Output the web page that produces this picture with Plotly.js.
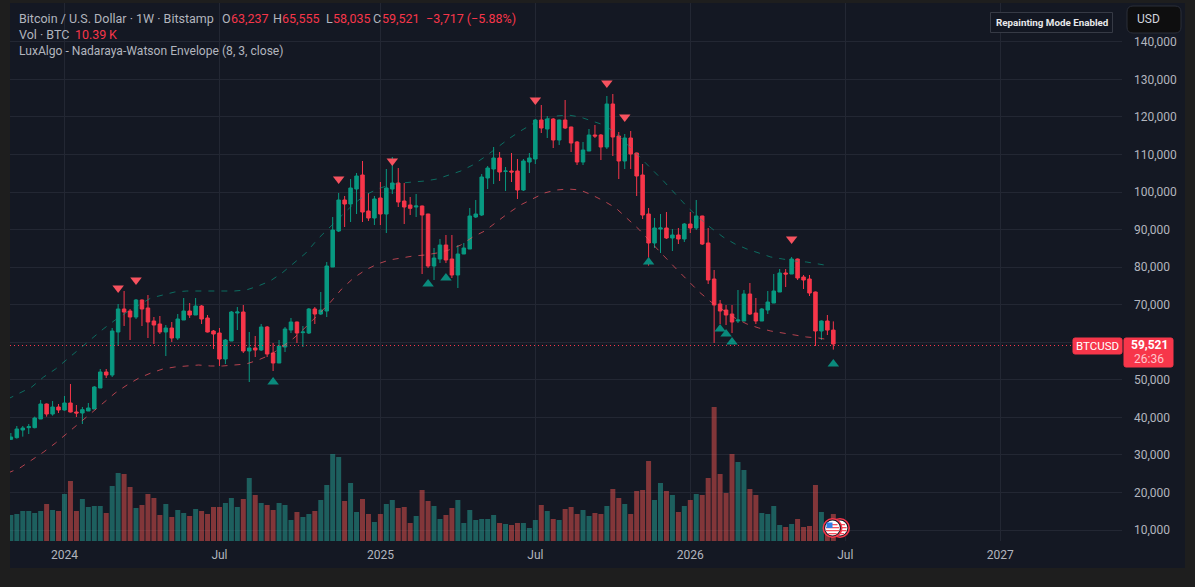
<!DOCTYPE html>
<html>
<head>
<meta charset="utf-8">
<script src="https://cdn.plot.ly/plotly-3.0.1.min.js"></script>
<style>html,body{margin:0;padding:0;background:#1e1e1e;overflow:hidden}#c{width:1195px;height:587px}</style>
</head>
<body>
<div id="c"></div>
<script>
var firstWeek = Date.UTC(2023,9,30);
var openVals = [34143,34587,36628,37250,37250,39558,43552,40889,42753,
41954,43819,41422,41156,41688,42221,47813,52074,51275,62727,
68852,68319,66721,71249,69118,65656,64857,62727,63792,61129,
65922,68319,67254,69651,66455,62993,62460,55536,60330,67787,
68053,57667,58466,57933,64058,57134,54471,58732,63259,65390,
62550,62460,68852,67520,68319,80036,89623,97878,96813,100808,
104536,94949,93085,98411,94150,100808,102406,97612,96547,96014,
96281,94150,80302,82166,85894,82166,77905,83498,84829,93351,
93884,103737,106133,109063,105500,105601,105601,100541,107998,108797,
119183,116786,119449,113856,119183,117318,113324,107998,110927,115188,
115188,111992,123444,114921,108264,114389,110394,104535,94150,86426,
90155,90421,87758,88557,87493,91487,90422,93618,86428,76840,
70183,68585,67520,65655,65655,72846,67786,65655,68585,70449,
73378,78438,78172,82166,77373,76840,73378,62992,65655,63237];
var highVals = [35829,37694,37694,38226,40179,44618,43700,44351,43552,
45683,48879,43286,42753,43819,48346,52873,52873,63792,70183,
73645,68852,71515,71400,72580,66721,66988,64591,65390,67520,
71781,70450,71781,69917,67254,63259,63792,60863,68319,69384,
69917,62727,61661,64857,64325,59797,60596,64058,66455,65500,
64325,69118,69384,73379,81368,93351,99743,98944,103471,105069,
108265,99743,98944,102672,106134,109330,106400,102406,98677,99476,
96400,94200,85096,87492,88558,88558,85894,86427,95748,97878,
104803,106932,111992,110661,106666,110394,108797,108797,110394,119449,
123177,120248,119715,119300,124509,117400,113590,113324,116786,117851,
115454,125574,126107,115987,115454,116253,110500,107465,95747,93084,
94150,94682,90155,90421,91754,94683,97879,93700,90422,79237,
71248,69916,69916,73911,73911,75775,71780,69117,73645,78172,
79504,79504,82699,82300,77906,77906,73500,65800,67253,65555];
var lowVals = [33965,34320,34853,35563,37072,39558,40179,40445,41156,
41777,41300,40090,38226,41688,42221,47813,50476,50743,58998,
64325,60596,66189,64325,61129,59531,62194,56335,60064,60596,
65922,66455,67254,64857,62600,58199,53672,54205,60330,63259,
57134,49411,56069,57667,56069,52341,54471,57400,62460,59797,
58732,62194,64857,67254,66721,80036,89357,90688,92020,94150,
92020,92286,91220,91220,89090,99476,96014,91487,93884,93351,
78172,79770,76574,81101,81101,77106,74443,83498,84829,93085,
93618,100807,102139,102937,100275,102671,98144,100275,105068,107465,
115721,114389,111726,112525,116786,110661,107199,107199,110927,114389,
108530,111459,109595,103470,106133,106133,98943,92817,80391,85095,
83763,87491,84296,86160,86694,89091,89890,85895,75509,59796,
64857,64590,62459,65122,65655,67253,64857,65655,67520,70449,
73378,74709,78172,76574,74177,72313,58998,60596,61927,58035];
var closeVals = [34764,36895,37161,37516,39824,43552,40889,42753,41954,
43819,41422,41156,42043,42487,48080,52074,51275,62993,68852,
68053,66721,71249,68852,65390,64591,62727,63792,61129,66189,
68319,67254,69651,66189,62727,62194,55536,60596,68053,68053,
57667,58466,57933,64058,56868,54471,58998,63526,65390,62460,
62727,68852,67520,68585,80303,89889,97878,96813,101074,104270,
94683,93085,98145,94150,101074,102406,97346,96014,95659,96281,
93884,80302,82433,85894,81900,77905,83498,85096,93618,94150,
104004,106400,109063,105334,105601,105334,100541,108264,109063,119183,
117052,119449,113856,119183,117052,113058,107998,111193,115188,114921,
111992,123444,114655,108264,114389,110128,104269,93883,86426,90421,
90421,87758,88557,87491,91487,90422,93618,86161,76574,69916,
68318,67253,65389,65922,72846,67520,65655,68851,70715,73645,
78438,78172,82166,77107,76574,73112,62992,65655,63238,59521];
var volumes = [10007,10392,11547,11547,10777,11547,14241,11932,11547,
18090,23094,11547,16166,13087,13472,13472,10777,21170,26173,
25788,20785,12702,13856,18090,16551,10007,14241,9238,11932,
10777,9623,12317,11547,10392,13087,13087,14626,16551,13087,
16166,24249,17705,14626,13856,11932,14626,13856,8083,11162,
9238,10392,11547,15781,21554,33486,32332,15396,22324,11162,
16166,10392,7313,10392,14241,15781,12702,13087,6928,9623,
19630,15396,13472,8468,10007,12702,15781,6928,11932,8083,
8468,8468,10007,6928,6543,6158,6928,6928,5004,8083,
13856,11547,8468,8083,12317,13087,10392,11932,9623,10777,
10392,13472,20015,16551,14241,10392,19245,19630,30792,15781,
22324,19245,17705,11162,13472,15781,18090,17705,24249,51577,
25788,18475,33486,30407,27328,20015,17705,10777,10392,13472,
6158,5389,6543,8468,5389,5774,21554,11162,6400,10390];
var upperVals = [44885,46483,48081,50744,52874,55537,58200,60863,63526,65923,
68053,69918,71782,72581,73379,73646,73646,73646,73646,73646,
73912,74977,76309,78439,81102,83765,87493,90689,93618,96814,
99211,100808,101874,102406,102672,102939,103471,104537,105602,107200,
109330,111727,114123,116254,118118,119183,120248,120515,119982,118917,
117852,115721,112526,109330,106401,102939,99477,96015,93086,90423,
88026,86162,84830,83765,82700,82167,81635,81368,80836,80303];
var lowerVals = [25179,26511,28641,30771,33168,35831,38494,41157,43820,46483,
48614,50478,51809,52874,53407,53673,53940,53673,53673,53940,
54206,55271,56603,58733,61130,64059,67255,70450,74178,77108,
79238,80836,81901,82434,82966,83233,83765,84564,85896,88026,
89624,92020,94417,96548,98145,99743,100542,100808,100542,99211,
97613,95749,92819,89890,86428,82966,79771,76575,73379,70716,
68586,66456,64858,63793,62994,62461,61929,61396,61130,60597];
var sellWeeks = [9,12,46,55,79,91,94,122];
var sellPrices = [74445,76575,103471,108265,124509,129036,119982,87493];
var buyWeeks = [35,61,64,98,110,111,112,129];
var buyPrices = [49412,75510,77108,81368,63526,62195,60064,54206];
var priceTicks = [10000,20000,30000,40000,50000,60000,70000,80000,90000,100000,110000,120000,130000,140000];
var priceTickText = ['10,000','20,000','30,000','40,000','50,000','','70,000','80,000','90,000','100,000','110,000','120,000','130,000','140,000'];
var timeTickWeeks = [0,26,53,79,105,131,157];
var timeTickText = ['2024','Jul','2025','Jul','2026','Jul','2027'];

var W = 864e5*7, W0 = Date.UTC(2024,0,1);
function wk(i){return new Date(W0 + i*W).toISOString().slice(0,16).replace('T',' ');}
var candleX = openVals.map(function(_,k){return new Date(firstWeek + k*W).toISOString().slice(0,10);});
var envX = upperVals.map(function(_,k){return wk(-9.5 + 2*k);});

var UP='#089981', DN='#f7364a', PANEL='#141823', GRID='#232733', TXT='#b2b5be', FONT='Roboto, "Noto Sans", sans-serif';
var L=10,R=1122,T=3,B=541;
function px(x){return (x-L)/(R-L);}
function py(y){return (B-y)/(B-T);}

var traces = [
 {type:'bar',x:candleX,y:volumes,yaxis:'y',xaxis:'x',hoverinfo:'skip',
  marker:{line:{width:0},color:closeVals.map(function(c,i){return c>=openVals[i]?'rgba(38,166,154,0.5)':'rgba(239,83,80,0.5)';})}},
 {type:'candlestick',x:candleX,open:openVals,high:highVals,low:lowVals,close:closeVals,yaxis:'y2',xaxis:'x',hoverinfo:'skip',whiskerwidth:0,
  increasing:{line:{color:UP,width:1},fillcolor:UP},decreasing:{line:{color:DN,width:1},fillcolor:DN}},
 {type:'scatter',mode:'lines',x:envX,y:upperVals,yaxis:'y2',hoverinfo:'skip',line:{color:'rgba(8,153,129,0.65)',width:1,dash:'6px,7px'}},
 {type:'scatter',mode:'lines',x:envX,y:lowerVals,yaxis:'y2',hoverinfo:'skip',line:{color:'rgba(247,82,95,0.7)',width:1,dash:'6px,7px'}},
 {type:'scatter',mode:'markers',x:sellWeeks.map(wk),y:sellPrices,yaxis:'y2',hoverinfo:'skip',marker:{symbol:'triangle-down',size:10,color:'#f7525f',line:{width:0}}},
 {type:'scatter',mode:'markers',x:buyWeeks.map(wk),y:buyPrices,yaxis:'y2',hoverinfo:'skip',marker:{symbol:'triangle-up',size:10,color:'#0a8a7c',line:{width:0}}}
];

function rect(x0,y0,x1,y1,fill,line,layer){return {type:'rect',xref:'paper',yref:'paper',x0:px(x0),x1:px(x1),y0:py(y0),y1:py(y1),fillcolor:fill,line:{color:line||fill,width:line?1:0},layer:layer||'above'};}
function circ(cx,cy,r,fill){return {type:'circle',xref:'paper',yref:'paper',x0:px(cx-r),x1:px(cx+r),y0:py(cy+r),y1:py(cy-r),fillcolor:fill,line:{width:0},layer:'above'};}
function rrect(x0,y0,x1,y1,r,fill,line){
  function X(v){return px(v);} function Y(v){return py(v);}
  var p='M'+X(x0+r)+','+Y(y0)+' L'+X(x1-r)+','+Y(y0)+' Q'+X(x1)+','+Y(y0)+' '+X(x1)+','+Y(y0+r)+' L'+X(x1)+','+Y(y1-r)+' Q'+X(x1)+','+Y(y1)+' '+X(x1-r)+','+Y(y1)+' L'+X(x0+r)+','+Y(y1)+' Q'+X(x0)+','+Y(y1)+' '+X(x0)+','+Y(y1-r)+' L'+X(x0)+','+Y(y0+r)+' Q'+X(x0)+','+Y(y0)+' '+X(x0+r)+','+Y(y0)+' Z';
  return {type:'path',xref:'paper',yref:'paper',path:p,fillcolor:fill,line:{color:line||fill,width:1},layer:'above'};
}
function flag(cx,cy){
  var s=[circ(cx,cy,10,DN),circ(cx,cy,8.4,'#141823'),circ(cx,cy,7.4,'#ffffff')];
  [[-4,5],[-1,6.6],[2,6.6],[5,4.2]].forEach(function(a){ s.push(rect(cx-a[1],cy+a[0],cx+a[1],cy+a[0]+1.3,'#f7525f')); });
  s.push(rect(cx-6,cy-5.5,cx,cy,'#2f7fe6'));
  return s;
}
var shapes = [
 rect(10,3,1185,568,PANEL,null,'below'),
 {type:'line',xref:'paper',yref:'paper',x0:0,x1:1,y0:py(345.5),y1:py(345.5),line:{color:DN,width:1,dash:'1px,3px'},layer:'above'},
 rect(990.5,12.5,1112.5,32.5,'#131722','#363a45'),
 rrect(1127,6,1181,33,6,'#0e0e0f','#2a2e39'),
 rrect(1073,338,1122,354,2,DN),
 rrect(1124,338,1173,367,2,DN)
].concat(flag(840,528)).concat(flag(832.5,528));

function note(x,y,t,c,size,anchor,bold){return {xref:'paper',yref:'paper',x:px(x),y:py(y),text:bold?'<b>'+t+'</b>':t,showarrow:false,xanchor:anchor||'left',yanchor:'middle',align:anchor||'left',font:{color:c,size:size||12,family:FONT},borderpad:0};}
var annotations = [
 note(18,18,'Bitcoin / U.S. Dollar · 1W · Bitstamp',TXT,12.5),
 note(221,18,'O',TXT,12.5),note(230,18,'63,237',DN,12.5),
 note(272,18,'H',TXT,12.5),note(281,18,'65,555',DN,12.5),
 note(325,18,'L',TXT,12.5),note(332,18,'58,035',DN,12.5),
 note(372,18,'C',TXT,12.5),note(381,18,'59,521',DN,12.5),
 note(425,18,'−3,717 (−5.88%)',DN,12.5),
 note(18,34,'Vol · BTC',TXT,12.5),note(74,34,'10.39\u2009K',DN,12.5),
 note(18,51,'LuxAlgo - Nadaraya-Watson Envelope (8, 3, close)',TXT,12.1),
 note(1051.5,22.5,'Repainting Mode Enabled','#e8e8ea',9.8,'center',true),
 note(1136,19.5,'USD','#d1d4dc',12),
 note(1097.5,346,'BTCUSD','#ffffff',11.5,'center'),
 note(1149,345,'59,521','#ffffff',12,'center',true),
 note(1149,359,'26:36','#ffc4cb',12,'center')
];

var layout = {
 width:1195,height:587,showlegend:false,
 margin:{l:L,r:1195-R,t:T,b:587-B,pad:0},
 paper_bgcolor:'#1e1e1e',plot_bgcolor:'rgba(0,0,0,0)',
 font:{family:FONT,color:TXT,size:12},
 bargap:0.16,boxmode:'overlay',boxgap:0.16,
 xaxis:{type:'date',range:[wk((L-64.5)/5.96),wk((R-64.5)/5.96)],rangeslider:{visible:false},tickmode:'array',
   tickvals:timeTickWeeks.map(wk),ticktext:timeTickText,tickfont:{color:TXT,size:12,family:FONT},ticklabelstandoff:5,
   showgrid:true,gridcolor:GRID,gridwidth:1,zeroline:false,showline:false,ticks:''},
 yaxis:{range:[0,207076],domain:[0,1],showgrid:false,zeroline:false,showticklabels:false,ticks:'',showline:false,fixedrange:true},
 yaxis2:{overlaying:'y',side:'right',range:[7071,150340],tickmode:'array',tickvals:priceTicks,ticktext:priceTickText,ticklabelstandoff:11,
   tickfont:{color:TXT,size:12,family:FONT},showgrid:true,gridcolor:GRID,gridwidth:1,zeroline:false,showline:false,ticks:''},
 shapes:shapes,annotations:annotations
};
Plotly.newPlot('c',traces,layout,{displayModeBar:false,staticPlot:true});
</script>
</body>
</html>
